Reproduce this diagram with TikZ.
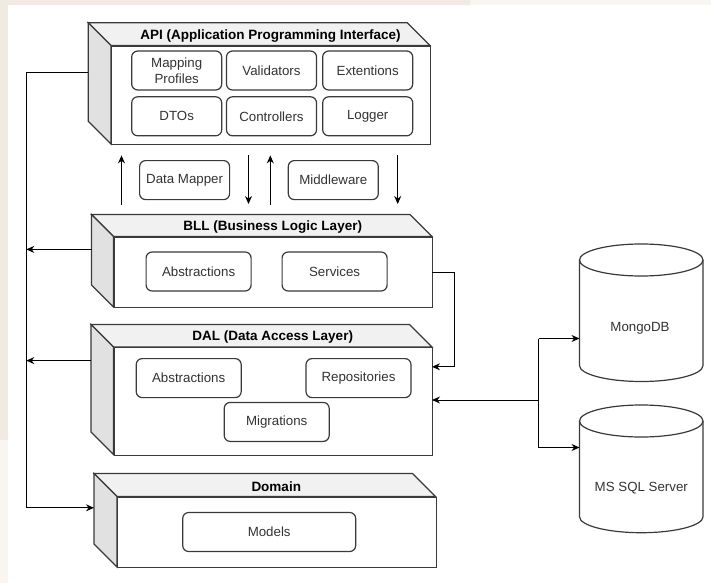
\documentclass[tikz,border=0pt]{standalone}
\usepackage{fontspec}
\setmainfont{Liberation Sans}
\usetikzlibrary{arrows.meta,calc}

\definecolor{edge}{HTML}{3A3A3A}
\definecolor{topface}{HTML}{F1F1F1}
\definecolor{sideface}{HTML}{E1E1E1}
\definecolor{textgray}{HTML}{333333}
\definecolor{paper}{HTML}{F1EAE2}
\definecolor{paperlight}{HTML}{F9F6F2}

\tikzset{
  line/.style={draw=edge, line width=1.2pt},
  front/.style={line, fill=white, rectangle, inner sep=0pt},
  item/.style={line, fill=white, rounded corners=6pt, inner sep=0pt,
    font=\fontsize{13.3}{15.5}\selectfont, text=textgray, align=center},
  layertitle/.style={font=\bfseries\fontsize{13.5}{15}\selectfont, text=black},
  dbtext/.style={font=\fontsize{13.3}{15}\selectfont, text=textgray},
  conn/.style={draw=black, line width=1pt},
  arr/.style={conn, -{Stealth[length=8pt,width=7pt]}}
}

% a layer drawn as a box seen from the upper left:
% #1 name, #2 left, #3 top, #4 right, #5 bottom, #6 depth, #7 title
\newcommand{\layerbox}[7]{%
  \path[line, fill=topface] (#2,#3) -- ++(-#6,-#6) -- (#4-#6,#3-#6) -- (#4,#3) -- cycle;
  \path[line, fill=sideface] (#2,#3) -- ++(-#6,-#6) -- (#2-#6,#5-#6) -- (#2,#5) -- cycle;
  \node[front, minimum width=#4-#2, minimum height=#5-#3, anchor=north west] (#1) at (#2,#3) {};
  \node[layertitle] (#1title) at ({(#2+#4)/2},{#3-#6/2+1.5}) {#7};
}

% a database drum: #1 name, #2 left, #3 top, #4 right, #5 bottom, #6 end radius
\newcommand{\drum}[6]{%
  \path[line, fill=white] (#2,#3+#6) -- (#2,#5-#6)
    arc[start angle=180, end angle=360, x radius={(#4-#2)/2}, y radius=-#6]
    -- (#4,#3+#6)
    arc[start angle=0, end angle=180, x radius={(#4-#2)/2}, y radius=-#6];
  \path[line] (#2,#3+#6)
    arc[start angle=180, end angle=360, x radius={(#4-#2)/2}, y radius=-#6];
  \node[inner sep=0pt, minimum width=#4-#2, minimum height=#5-#3, anchor=north west] (#1) at (#2,#3) {};
}

\begin{document}
\begin{tikzpicture}[x=1pt,y=-1pt]
  % page
  \fill[white] (0,0) rectangle (711,583);
  \useasboundingbox (0,0) rectangle (711,583);
  \fill[paper] (0,0) rectangle (470,5);
  \fill[paperlight] (470,0) rectangle (711,5);
  \fill[paper] (0,0) rectangle (8,440);
  \fill[paperlight] (0,440) rectangle (8,583);

  % layers
  \layerbox{api}{111}{45.5}{430}{144}{22.7}{API (Application Programming Interface)}
  \layerbox{bll}{113.5}{236.5}{432}{307}{22}{BLL (Business Logic Layer)}
  \layerbox{dal}{113.5}{347}{432}{454.5}{22.6}{DAL (Data Access Layer)}
  \layerbox{dom}{117}{496.5}{435.5}{567}{23}{Domain}

  % API contents
  \node[item, minimum width=90pt, minimum height=39pt] (maps) at (176.7,70.5) {Mapping\\Profiles};
  \node[item, minimum width=90pt, minimum height=39pt] (valid) at (271.5,70.5) {Validators};
  \node[item, minimum width=90pt, minimum height=39pt] (ext) at (367.7,70.5) {Extentions};
  \node[item, minimum width=90pt, minimum height=39pt] (dtos) at (176.7,116.3) {DTOs};
  \node[item, minimum width=90pt, minimum height=39pt] (ctrl) at (271.5,116.3) {Controllers};
  \node[item, minimum width=90pt, minimum height=39pt] (logger) at (367.7,116.3) {Logger};

  % between API and BLL
  \node[item, minimum width=90pt, minimum height=39pt] (mapper) at (184.6,180.1) {Data Mapper};
  \node[item, minimum width=90pt, minimum height=39pt] (mw) at (333.3,180.1) {Middleware};

  \coordinate (u1b) at (121.5,204.5);
  \coordinate (u1t) at (121.5,155.4);
  \coordinate (d1t) at (248.5,155.4);
  \coordinate (d1b) at (248.5,204);
  \coordinate (u2b) at (270.3,204.5);
  \coordinate (u2t) at (270.3,155.4);
  \coordinate (d2t) at (397.7,155.4);
  \coordinate (d2b) at (397.7,204);
  \draw[arr] (u1b) -- (u1t);
  \draw[arr] (d1t) -- (d1b);
  \draw[arr] (u2b) -- (u2t);
  \draw[arr] (d2t) -- (d2b);

  % BLL contents
  \node[item, minimum width=105pt, minimum height=39pt] (bllabs) at (198.6,271.5) {Abstractions};
  \node[item, minimum width=105pt, minimum height=39pt] (serv) at (334.6,271.5) {Services};

  % DAL contents
  \node[item, minimum width=105pt, minimum height=39pt] (dalabs) at (188.7,378.1) {Abstractions};
  \node[item, minimum width=105pt, minimum height=39pt] (repo) at (358.5,378.1) {Repositories};
  \node[item, minimum width=105pt, minimum height=39pt] (migr) at (276.7,421.9) {Migrations};

  % Domain contents
  \node[item, minimum width=173pt, minimum height=39pt] (models) at (269.2,532) {Models};

  % databases
  \drum{mongo}{579.5}{244}{703}{381.5}{16}
  \node[dbtext] (mongotxt) at (640,327.9) {MongoDB};
  \drum{mssql}{579.5}{405}{703}{532.7}{16}
  \node[dbtext] (mssqltxt) at (641.3,488.1) {MS SQL Server};

  % left bus: every layer reaches the domain
  \coordinate (apiL) at (88.3,72.5);
  \coordinate (bllL) at (91.5,249.4);
  \coordinate (dalL) at (90.9,360.6);
  \coordinate (domL) at (94,507.8);
  \coordinate (busTop) at (26.3,72.5);
  \coordinate (busBll) at (26.3,249.4);
  \coordinate (busDal) at (26.3,360.6);
  \coordinate (busBot) at (26.3,507.8);
  \draw[conn] (apiL) -- (busTop) -- (busBot);
  \draw[arr] (busBot) -- (domL);
  \draw[arr] (bllL) -- (busBll);
  \draw[arr] (dalL) -- (busDal);

  % BLL to DAL on the right
  \coordinate (bllR) at (432,272);
  \coordinate (dalR1) at (432,366.8);
  \coordinate (bend) at (454.6,272);
  \draw[arr] (bllR) -- (bend) |- (dalR1);

  % DAL and the databases
  \coordinate (dalR2) at (432,400);
  \coordinate (split) at (538.5,400);
  \coordinate (toMongo) at (538.5,338.5);
  \coordinate (toSql) at (538.5,447.5);
  \draw[arr] (split) -- (dalR2);
  \draw[conn] (toMongo) -- (toSql);
  \draw[arr] (toMongo) -- (toMongo -| mongo.west);
  \draw[arr] (toSql) -- (toSql -| mssql.west);
\end{tikzpicture}
\end{document}
